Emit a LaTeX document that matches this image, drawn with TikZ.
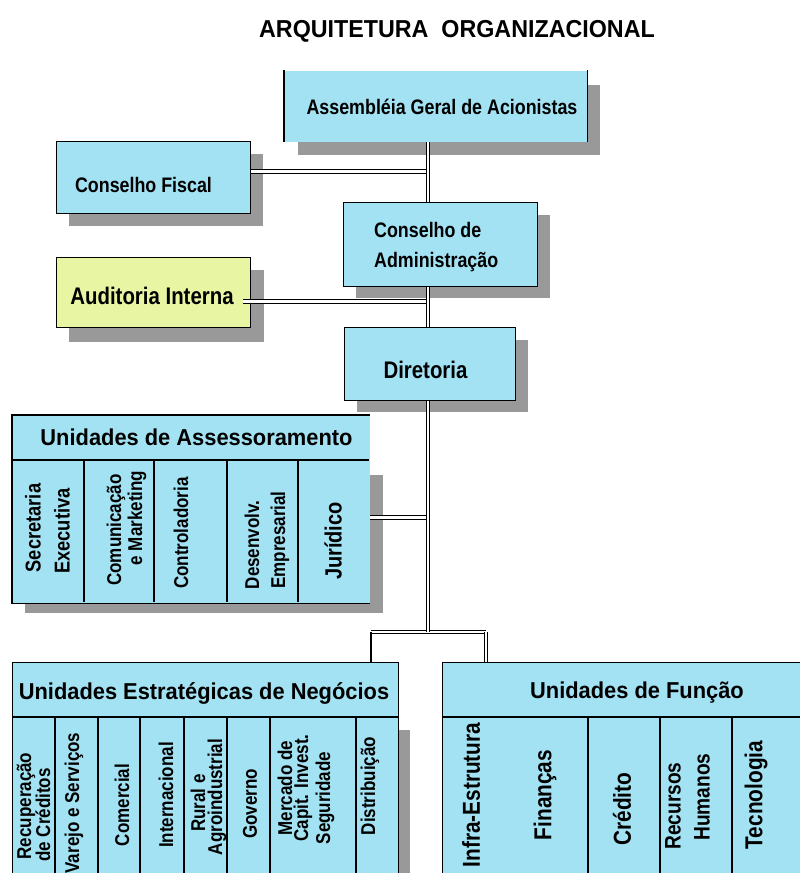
\documentclass[tikz,border=0pt]{standalone}
\usepackage{fontspec}
\setmainfont{Liberation Sans}[FakeStretch=0.85]
\newfontfamily\headfont{Liberation Sans}[FakeStretch=0.95]
\usetikzlibrary{calc}
\definecolor{boxblue}{HTML}{A3E2F3}
\definecolor{boxyellow}{HTML}{E8F5A2}
\definecolor{shadowgray}{HTML}{999999}
\newcommand\fsz[1]{\fontsize{#1}{#1}\selectfont}

\begin{document}
\begin{tikzpicture}[x=1pt,y=-1pt,
  unit/.style={draw=black, line width=1.1pt, fill=boxblue, inner sep=0pt, anchor=north west},
  sgl/.style={draw=black, line width=1.1pt},
  dbl/.style={draw=black, line width=0.9pt, double=white, double distance=2.4pt},
  lbl/.style={inner sep=0pt, font=\bfseries\fsz{21}},
  big/.style={inner sep=0pt, font=\bfseries\fsz{24}},
  col/.style={inner sep=0pt, rotate=90, font=\bfseries\fsz{20}},
  wide/.style={col, font=\bfseries\fsz{24.5}},
  head/.style={inner sep=0pt, font=\headfont\bfseries\fsz{23}},
]
\clip (0,0) rectangle (800,873);

% drop shadows
\fill[shadowgray] (298,85) rectangle (600,155);
\fill[shadowgray] (69,154) rectangle (263,226);
\fill[shadowgray] (356,215) rectangle (550,298);
\fill[shadowgray] (69,270) rectangle (264,342);
\fill[shadowgray] (357,340) rectangle (528,412);
\fill[shadowgray] (25,475) rectangle (383,613);
\fill[shadowgray] (25,730) rectangle (410,880);

% title
\node[head, font=\headfont\bfseries\fsz{24.5}] (title) at (457,31) {ARQUITETURA\ \ ORGANIZACIONAL};

% governance boxes
\node[unit, draw=none, minimum width=302pt, minimum height=71pt] (ag) at (284,70) {};
\draw[sgl] (ag.north west) -- (ag.south west) (ag.north east) -- (ag.south east);
\node[unit, minimum width=194pt, minimum height=72pt] (cf) at (56,141) {};
\node[unit, minimum width=194pt, minimum height=84pt] (ca) at (343,202) {};
\node[unit, fill=boxyellow, minimum width=194pt, minimum height=70pt] (ai) at (56,257) {};
\node[unit, minimum width=171pt, minimum height=73pt] (dir) at (344,327) {};

\node[lbl] (agt) at (442,107) {Assembléia Geral de Acionistas};
\node[lbl] (cft) at (143.5,185) {Conselho Fiscal};
\node[lbl, anchor=west, align=left, font=\bfseries\fontsize{21}{30}\selectfont] (cat) at (374,247) {Conselho de\\Administração};
\node[big] (ait) at (152,296) {Auditoria Interna};
\node[big] (dirt) at (425.5,370) {Diretoria};

% unit tables
\node[unit, draw=none, minimum width=357pt, minimum height=187pt] (as) at (12,415) {};
\draw[sgl] (as.north east) -- (as.north west) -- (as.south west) -- (as.south east);
\node[unit, minimum width=386pt, minimum height=218pt] (neg) at (12,662) {};
\node[unit, minimum width=368pt, minimum height=218pt] (fun) at (442,662) {};

\draw[sgl] (12,460) -- (369,460);
\foreach \x in {84,154,227,298} \draw[sgl] (\x,460) -- (\x,602);
\draw[sgl] (12,717) -- (398,717);
\foreach \x in {55,98,140,184,227,270,356} \draw[sgl] (\x,717) -- (\x,880);
\draw[sgl] (442,717) -- (810,717);
\foreach \x in {588,660,732} \draw[sgl] (\x,717) -- (\x,880);

\node[head] (ash) at (196.5,437) {Unidades de Assessoramento};
\node[head] (negh) at (204,693) {Unidades Estratégicas de Negócios};
\node[head] (funh) at (637,693) {Unidades de Função};

% advisory units
\node[col, font=\bfseries\fsz{21.5}] (a1) at (33,528) {Secretaria};
\node[col, font=\bfseries\fsz{21.5}] (a2) at (62,531) {Executiva};
\node[col] (a3) at (116,530) {Comunicação};
\node[col] (a4) at (137,518) {e Marketing};
\node[col] (a5) at (181,533) {Controladoria};
\node[col] (a6) at (252,545) {Desenvolv.};
\node[col] (a7) at (280,540) {Empresarial};
\node[col, font=\bfseries\fsz{23.5}] (a8) at (333,541) {Jurídico};

% business units
\node[col] (n1) at (26,806) {Recuperação};
\node[col] (n2) at (43,815) {de Créditos};
\node[col] (n3) at (74,803) {Varejo e Serviços};
\node[col] (n4) at (122,805) {Comercial};
\node[col] (n5) at (166,795) {Internacional};
\node[col] (n6) at (198,803) {Rural e};
\node[col] (n7) at (217,797) {Agroindustrial};
\node[col] (n8) at (250,804) {Governo};
\node[col] (n9) at (285,788) {Mercado de};
\node[col] (n10) at (303,788) {Capit. Invest.};
\node[col] (n11) at (325,798) {Seguridade};
\node[col] (n12) at (370,786) {Distribuição};

% functional units
\node[wide] (f1) at (471,795) {Infra-Estrutura};
\node[wide] (f2) at (545,795) {Finanças};
\node[wide] (f3) at (622,809) {Crédito};
\node[wide, font=\bfseries\fsz{22.5}] (f4) at (673,806) {Recursos};
\node[wide, font=\bfseries\fsz{22.5}] (f5) at (702,797) {Humanos};
\node[wide] (f6) at (756,795) {Tecnologia};

% connectors
\coordinate (trunk) at (428,0);
\coordinate (busL) at (371,632);
\coordinate (busR) at (486,632);
\draw[dbl] ([yshift=6pt]cf.east) -- ([yshift=6pt]cf.east -| trunk);
\draw[dbl] ([xshift=-8pt,yshift=-9pt]ai.east) -- ([yshift=-9pt]ai.east -| trunk);
\draw[dbl] ([yshift=-8.5pt]as.east) -- ([yshift=-8.5pt]as.east -| trunk);
\draw[dbl] (busL) -- (busR);
\draw[sgl] (busL) -- (busL |- neg.north);
\draw[dbl] (busR) -- (busR |- fun.north);
\draw[dbl] (ag.south -| trunk) -- (ca.north -| trunk);
\draw[dbl] (ca.south -| trunk) -- (dir.north -| trunk);
\draw[dbl] (dir.south -| trunk) -- (busL -| trunk);
\end{tikzpicture}
\end{document}
